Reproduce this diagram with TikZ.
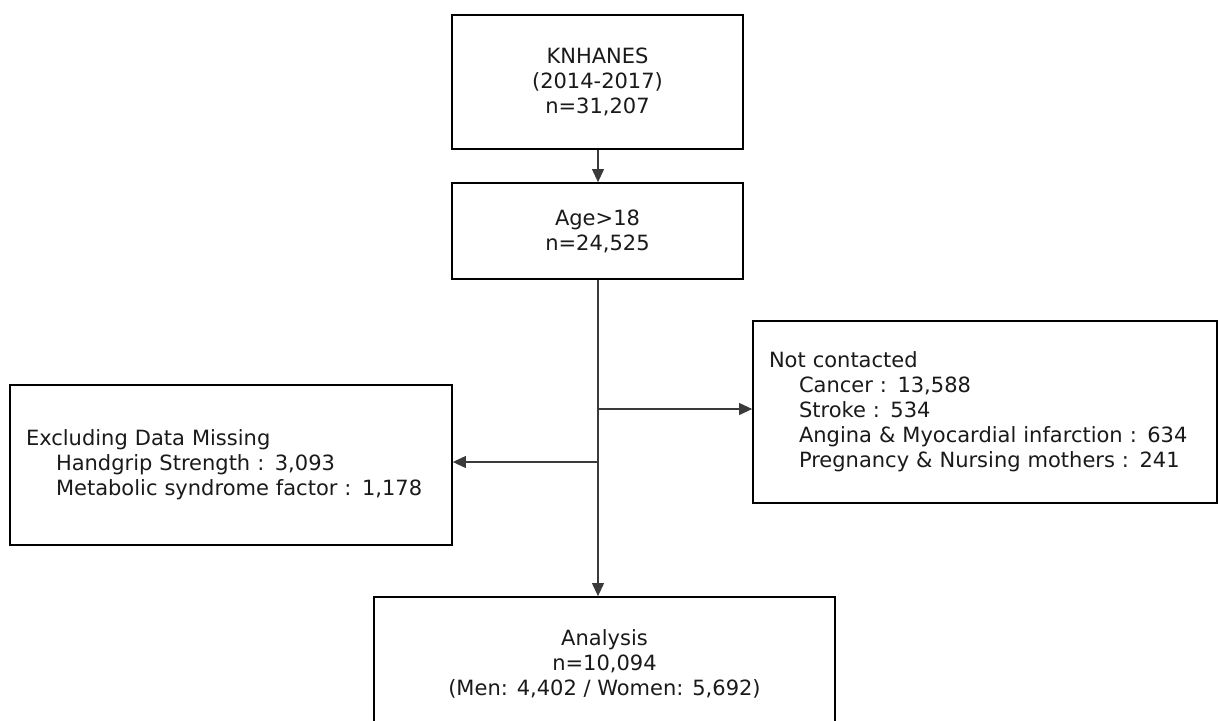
\documentclass[tikz,border=0pt]{standalone}
\usepackage{fontspec}
\setmainfont{DejaVu Sans}
\usepackage{xcolor}
\usepackage{tikz}
\usetikzlibrary{calc,arrows.meta}
\definecolor{ink}{HTML}{1A1A1A}
\definecolor{edge}{HTML}{000000}
\definecolor{wire}{HTML}{3A3A3A}
\tikzset{
  box/.style={draw=edge, line width=1.8pt, fill=white, text=ink, inner sep=0pt,
    font=\fontsize{21}{25}\selectfont, align=center},
  boxl/.style={box, align=left, inner xsep=16pt},
  flow/.style={draw=wire, line width=1.1pt, -{Triangle[length=13pt,width=12pt]}},
}
\newcommand{\ind}{\hspace*{30pt}}

\begin{document}
\begin{tikzpicture}[x=1pt,y=-1pt]
  \useasboundingbox (0,0) rectangle (1220,720);
  \clip (0,0) rectangle (1220,720);
  \fill[white] (0,0) rectangle (1220,720);
  % main column
  \node[box, minimum width=291pt, minimum height=134pt] (knhanes) at (597.5,82)
    {KNHANES\\(2014-2017)\\n=31,207};
  \node[box, minimum width=291pt, minimum height=96pt] (age) at (597.5,231)
    {Age>18\\n=24,525};
  \node[box, minimum width=461pt, minimum height=133pt] (analysis) at (604.5,663.5)
    {Analysis\\n=10,094\\(Men: 4,402 / Women: 5,692)};
  % side boxes
  \node[boxl, text width=432pt, minimum height=182pt] (notcon) at (985,412)
    {Not contacted\\
     \ind Cancer : 13,588\\
     \ind Stroke : 534\\
     \ind Angina \& Myocardial infarction : 634\\
     \ind Pregnancy \& Nursing mothers : 241};
  \node[boxl, text width=410pt, minimum height=160pt] (excl) at (231,465)
    {Excluding Data Missing\\
     \ind Handgrip Strength : 3,093\\
     \ind Metabolic syndrome factor : 1,178};
  % connectors
  \coordinate (brR) at (598,409);
  \coordinate (brL) at (598,462);
  \draw[flow] (knhanes.south -| 598,0) -- (age.north -| 598,0);
  \draw[flow] (age.south -| 598,0) -- (analysis.north -| 598,0);
  \draw[flow] (brR) -- (brR -| notcon.west);
  \draw[flow] (brL) -- (brL -| excl.east);
\end{tikzpicture}
\end{document}
